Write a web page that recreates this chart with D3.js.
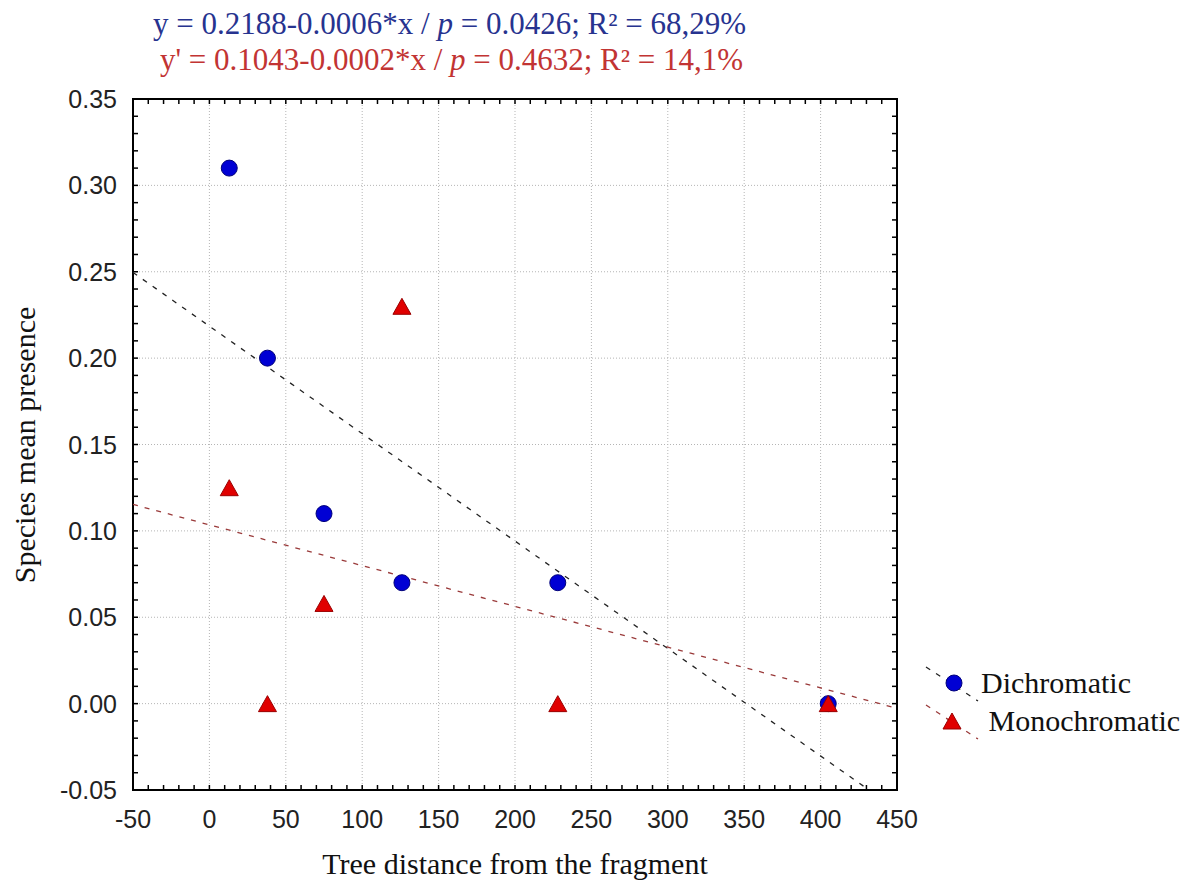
<!DOCTYPE html>
<html>
<head>
<meta charset="utf-8">
<script src="https://cdn.jsdelivr.net/npm/d3@7.9.0/dist/d3.min.js"></script>
<style>
  body { margin: 0; background: #fff; }
  svg { display: block; }
</style>
</head>
<body>
<svg></svg>
<script>
// values
const distance = [13, 38, 75, 126, 228, 405];
const dichromatic = [0.31, 0.20, 0.11, 0.07, 0.07, 0.00];
const monochromatic = [0.125, 0.00, 0.058, 0.23, 0.00, 0.00];
// fitted lines: [intercept, slope]
const dichromaticFit = [0.2185, -0.000622];
const monochromaticFit = [0.1035, -0.000236];
const xTicks = [-50, 0, 50, 100, 150, 200, 250, 300, 350, 400, 450];
const yTicks = [-0.05, 0, 0.05, 0.10, 0.15, 0.20, 0.25, 0.30, 0.35];
const seriesNames = ["Dichromatic", " Monochromatic"];

const width = 1200;
const height = 884;
const plotL = 133, plotR = 897, plotT = 99, plotB = 790;

const svg = d3.select("svg")
    .attr("width", width)
    .attr("height", height);

const x = d3.scaleLinear().domain([-50, 450]).range([plotL, plotR]);
const y = d3.scaleLinear().domain([-0.05, 0.35]).range([plotB, plotT]);

const serif = "'Liberation Serif', 'Times New Roman', serif";
const sans = "'Liberation Sans', Arial, sans-serif";

// equations at the top
const eq1 = svg.append("text")
    .attr("x", 153).attr("y", 34)
    .attr("font-family", serif).attr("font-size", 31)
    .attr("fill", "#27338f");
eq1.append("tspan").text("y = 0.2188-0.0006*x / ");
eq1.append("tspan").attr("font-style", "italic").text("p");
eq1.append("tspan").text(" = 0.0426; R² = 68,29%");

const eq2 = svg.append("text")
    .attr("x", 160).attr("y", 70)
    .attr("font-family", serif).attr("font-size", 31)
    .attr("fill", "#c23433");
eq2.append("tspan").text("y' = 0.1043-0.0002*x / ");
eq2.append("tspan").attr("font-style", "italic").text("p");
eq2.append("tspan").text(" = 0.4632; R² = 14,1%");

// grid
const grid = svg.append("g")
    .attr("stroke", "#b5b5b5")
    .attr("stroke-width", 1)
    .attr("stroke-dasharray", "1,2");

grid.selectAll(".gx")
    .data(xTicks.slice(1, -1))
    .enter().append("line")
    .attr("x1", d => x(d)).attr("x2", d => x(d))
    .attr("y1", plotT).attr("y2", plotB);

grid.selectAll(".gy")
    .data(yTicks.slice(1, -1))
    .enter().append("line")
    .attr("x1", plotL).attr("x2", plotR)
    .attr("y1", d => y(d)).attr("y2", d => y(d));

// ticks on all four sides, pointing inward
const xMinor = d3.range(-50, 451, 10);
const yMinor = d3.range(-50, 351, 10).map(v => v / 1000);
const tickLen = 5;

const ticks = svg.append("g").attr("stroke", "#000").attr("stroke-width", 1.5);

ticks.selectAll(".tb")
    .data(xMinor)
    .enter().append("line")
    .attr("x1", d => x(d)).attr("x2", d => x(d))
    .attr("y1", plotB).attr("y2", plotB - tickLen);
ticks.selectAll(".tt")
    .data(xMinor)
    .enter().append("line")
    .attr("x1", d => x(d)).attr("x2", d => x(d))
    .attr("y1", plotT).attr("y2", plotT + tickLen);
ticks.selectAll(".tl")
    .data(yMinor)
    .enter().append("line")
    .attr("x1", plotL).attr("x2", plotL + tickLen)
    .attr("y1", d => y(d)).attr("y2", d => y(d));
ticks.selectAll(".tr")
    .data(yMinor)
    .enter().append("line")
    .attr("x1", plotR).attr("x2", plotR - tickLen)
    .attr("y1", d => y(d)).attr("y2", d => y(d));

// frame
svg.append("rect")
    .attr("x", plotL).attr("y", plotT)
    .attr("width", plotR - plotL).attr("height", plotB - plotT)
    .attr("fill", "none")
    .attr("stroke", "#000")
    .attr("stroke-width", 2);

// tick labels
svg.selectAll(".xl")
    .data(xTicks)
    .enter().append("text")
    .attr("x", d => x(d))
    .attr("y", 828)
    .attr("text-anchor", "middle")
    .attr("font-family", sans).attr("font-size", 25)
    .attr("fill", "#222")
    .text(d => d);

svg.selectAll(".yl")
    .data(yTicks)
    .enter().append("text")
    .attr("x", 117)
    .attr("y", d => y(d) + 9)
    .attr("text-anchor", "end")
    .attr("font-family", sans).attr("font-size", 25)
    .attr("fill", "#222")
    .text(d => d3.format(".2f")(d).replace("−", "-"));

// axis titles
svg.append("text")
    .attr("x", 515).attr("y", 874)
    .attr("text-anchor", "middle")
    .attr("font-family", serif).attr("font-size", 30)
    .attr("fill", "#111")
    .text("Tree distance from the fragment");

svg.append("text")
    .attr("transform", "translate(35,445) rotate(-90)")
    .attr("text-anchor", "middle")
    .attr("font-family", serif).attr("font-size", 30)
    .attr("fill", "#111")
    .text("Species mean presence");

// fitted lines, clipped to the plot
svg.append("clipPath").attr("id", "plot")
    .append("rect")
    .attr("x", plotL).attr("y", plotT)
    .attr("width", plotR - plotL).attr("height", plotB - plotT);

const fitLine = d3.line()
    .x(d => x(d[0]))
    .y(d => y(d[1]));

function fitPoints(fit) {
    return [-50, 450].map(v => [v, fit[0] + fit[1] * v]);
}

svg.append("path")
    .attr("clip-path", "url(#plot)")
    .attr("d", fitLine(fitPoints(dichromaticFit)))
    .attr("fill", "none")
    .attr("stroke", "#222")
    .attr("stroke-width", 1.3)
    .attr("stroke-dasharray", "5,7");

svg.append("path")
    .attr("clip-path", "url(#plot)")
    .attr("d", fitLine(fitPoints(monochromaticFit)))
    .attr("fill", "none")
    .attr("stroke", "#9a3a3a")
    .attr("stroke-width", 1.3)
    .attr("stroke-dasharray", "5,7");

// markers
const triangle = "M0,-8L9,8L-9,8Z";

svg.selectAll(".dot")
    .data(distance)
    .enter().append("circle")
    .attr("cx", d => x(d))
    .attr("cy", (d, i) => y(dichromatic[i]))
    .attr("r", 8)
    .attr("fill", "#0000d4")
    .attr("stroke", "#00007a")
    .attr("stroke-width", 1);

svg.selectAll(".tri")
    .data(distance)
    .enter().append("path")
    .attr("d", triangle)
    .attr("transform", (d, i) => `translate(${x(d)},${y(monochromatic[i])})`)
    .attr("fill", "#e00000")
    .attr("stroke", "#9a0000")
    .attr("stroke-width", 1);

// legend
const legend = svg.append("g");
const legendRows = [
    { name: seriesNames[0], y: 683, color: "#222" },
    { name: seriesNames[1], y: 721, color: "#9a3a3a" }
];

legendRows.forEach((row, i) => {
    legend.append("line")
        .attr("x1", 926).attr("y1", row.y - 16)
        .attr("x2", 978).attr("y2", row.y + 18)
        .attr("stroke", row.color)
        .attr("stroke-width", 1.3)
        .attr("stroke-dasharray", "5,7");
    if (i === 0) {
        legend.append("circle")
            .attr("cx", 954).attr("cy", row.y)
            .attr("r", 8)
            .attr("fill", "#0000d4")
            .attr("stroke", "#00007a");
    } else {
        legend.append("path")
            .attr("d", triangle)
            .attr("transform", `translate(952,${row.y})`)
            .attr("fill", "#e00000")
            .attr("stroke", "#9a0000");
    }
    legend.append("text")
        .attr("x", 981).attr("y", row.y + 10)
        .attr("font-family", serif).attr("font-size", 30)
        .attr("fill", "#111")
        .attr("xml:space", "preserve")
        .style("white-space", "pre")
        .text(row.name);
});
</script>
</body>
</html>
